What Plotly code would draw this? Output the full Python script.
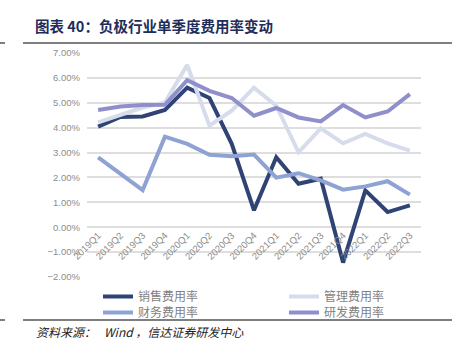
import plotly.graph_objects as go

quarters = ["2019Q1", "2019Q2", "2019Q3", "2019Q4", "2020Q1", "2020Q2", "2020Q3", "2020Q4",
            "2021Q1", "2021Q2", "2021Q3", "2021Q4", "2022Q1", "2022Q2", "2022Q3"]
sales = [4.04, 4.43, 4.45, 4.71, 5.61, 5.19, 3.35, 0.68, 2.81, 1.75, 1.95, -1.42, 1.48, 0.61, 0.88]
admin = [4.21, 4.52, 4.81, 5.01, 6.52, 4.08, 4.68, 5.61, 4.88, 3.01, 3.97, 3.37, 3.75, 3.37, 3.08]
finance = [2.81, 2.15, 1.49, 3.64, 3.35, 2.91, 2.85, 2.92, 1.99, 2.17, 1.88, 1.51, 1.64, 1.85, 1.31]
rnd = [4.71, 4.85, 4.91, 4.92, 5.91, 5.48, 5.19, 4.48, 4.79, 4.41, 4.25, 4.91, 4.41, 4.65, 5.35]

series_names = ["销售费用率", "管理费用率", "财务费用率", "研发费用率"]
series_values = [sales, admin, finance, rnd]
series_colors = ["#2F4375", "#D6DCEC", "#8FA2D4", "#8F8FCB"]

y_min, y_max = -2, 7

font_cjk = "Noto Sans CJK SC, Noto Sans, sans-serif"
grid_color = "#DEDEDE"

L, R, T, B = 87, 39, 53, 73
W, H = 460, 350
pw, ph = W - L - R, H - T - B

def px_x(x):
    return (x - L) / pw

def px_y(y):
    return (H - B - y) / ph

# legend slot (left px, top px) for each series: 2 columns x 2 rows
legend_slots = [(98, 282), (284, 282), (98, 298), (284, 298)]
legend_ids = ["legend", "legend2", "legend3", "legend4"]

fig = go.Figure()
for name, vals, color, lid in zip(series_names, series_values, series_colors, legend_ids):
    fig.add_trace(go.Scatter(x=quarters, y=vals, name=name, mode="lines", legend=lid,
                             line=dict(color=color, width=4)))

legend_layout = {}
for lid, (lx, ly) in zip(legend_ids, legend_slots):
    legend_layout[lid] = dict(orientation="v", x=px_x(lx), xanchor="left", y=px_y(ly), yanchor="top",
                              font=dict(size=12, color="#7F7F7F", family=font_cjk),
                              itemwidth=30, bgcolor="rgba(0,0,0,0)")

fig.update_layout(
    width=W, height=H,
    margin=dict(l=L, r=R, t=T, b=B, autoexpand=False),
    paper_bgcolor="white", plot_bgcolor="white",
    font=dict(family=font_cjk, color="#7F7F7F"),
    showlegend=True,
    xaxis=dict(type="category", tickangle=-45, showgrid=False, showline=False, ticks="",
               anchor="free", position=(0 - y_min) / (y_max - y_min),
               tickfont=dict(size=9.5, color="#8C8C8C", family="Liberation Sans, Arial, sans-serif"),
               range=[-0.5, len(quarters) - 0.5]),
    yaxis=dict(range=[y_min, y_max], dtick=1, tickformat=".2f", ticksuffix="%",
               showgrid=True, gridcolor=grid_color, gridwidth=1.5,
               zeroline=True, zerolinecolor=grid_color, zerolinewidth=1.5,
               showline=False, ticks="", ticklabelstandoff=6,
               tickfont=dict(size=9.5, color="#8C8C8C", family="Liberation Sans, Arial, sans-serif")),
    **legend_layout,
)

# title
fig.add_annotation(text="<b>图表 40：负极行业单季度费用率变动</b>", xref="paper", yref="paper",
                   x=px_x(33), y=px_y(25), xanchor="left", yanchor="middle", showarrow=False,
                   font=dict(size=14.5, color="#1F2D5A", family=font_cjk))
# source
fig.add_annotation(text="<i>资料来源：   Wind ，信达证券研发中心</i>", xref="paper", yref="paper",
                   x=px_x(34), y=px_y(331), xanchor="left", yanchor="middle", showarrow=False,
                   font=dict(size=12, color="#222222", family=font_cjk))

for yy in (43, 320):
    fig.add_shape(type="line", xref="paper", yref="paper", x0=px_x(23), x1=px_x(452),
                  y0=px_y(yy), y1=px_y(yy), line=dict(color="#555555", width=1.5))
    fig.add_shape(type="line", xref="paper", yref="paper", x0=px_x(0), x1=px_x(5),
                  y0=px_y(yy), y1=px_y(yy), line=dict(color="#555555", width=1.5))

fig.write_html("out.html")
